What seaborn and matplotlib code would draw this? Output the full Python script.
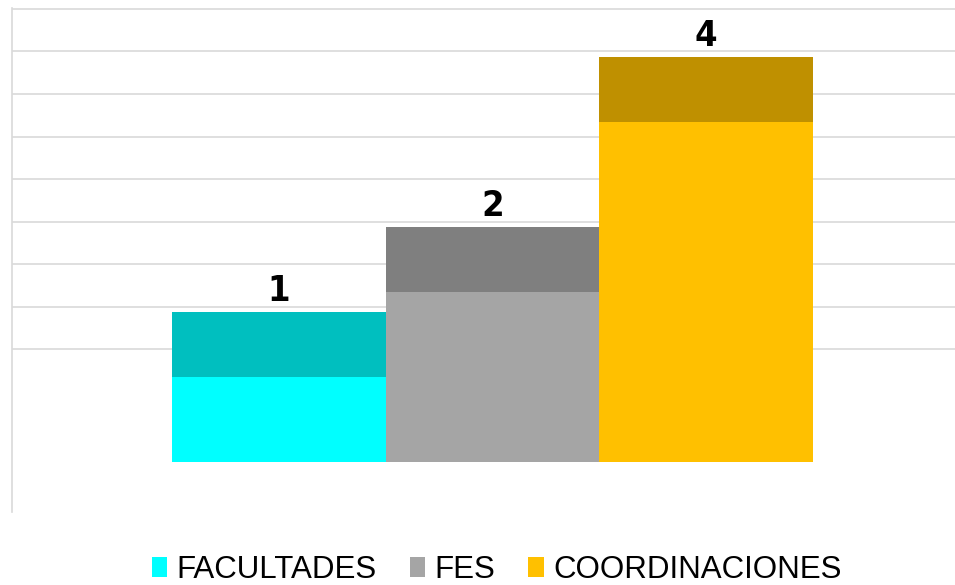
import seaborn as sns
import pandas as pd
import matplotlib.pyplot as plt
from matplotlib.patches import Patch

categories = ['FACULTADES', 'FES', 'COORDINACIONES']
values = [1, 2, 4]
front_colors = ['#00FFFF', '#A5A5A5', '#FFC000']
top_colors = ['#00BFBF', '#7F7F7F', '#BF9000']

# depth of the fake 3d top face, in value units
depth = 0.765

df = pd.DataFrame({'categoria': categories, 'valor': values})
df['tope'] = df['valor'] + depth

sns.set_theme(style='white')
plt.rcParams['font.family'] = ['Liberation Sans', 'DejaVu Sans']
plt.rcParams['text.color'] = 'black'

fig = plt.figure(figsize=(9.55, 5.85), dpi=100)
pos = [12 / 955, 73 / 585, 943 / 955, 504 / 585]

# back wall with gridlines
ax_bg = fig.add_axes(pos)
ax_bg.set_ylim(-3.824, 8.02)
ax_bg.set_xlim(0, 1)
ax_bg.set_yticks(range(0, 9))
ax_bg.set_xticks([])
ax_bg.grid(axis='y', color='#d9d9d9', linewidth=1.2)
ax_bg.tick_params(left=False, labelleft=False)
for s in ['top', 'right', 'bottom']:
    ax_bg.spines[s].set_visible(False)
ax_bg.spines['left'].set_color('#d9d9d9')
ax_bg.spines['left'].set_linewidth(1.2)

# bars
ax = fig.add_axes(pos)
ax.patch.set_alpha(0)
sns.barplot(data=df, x='categoria', y='tope', hue='categoria', palette=top_colors,
            width=1, legend=False, ax=ax, saturation=1, linewidth=0)
sns.barplot(data=df, x='categoria', y='valor', hue='categoria', palette=front_colors,
            width=1, legend=False, ax=ax, saturation=1, linewidth=0)
for i, cont in enumerate(ax.containers[:3]):
    ax.bar_label(cont, labels=[str(values[i])], padding=3, fontsize=26,
                 fontweight='bold', color='black', fontstretch='condensed',
                 family=['Liberation Sans Narrow', 'DejaVu Sans'])

ax.set_xlim(-1.249, 3.165)
ax.set_ylim(-0.588, 5.341)
ax.set_axis_off()

handles = [Patch(facecolor=c, edgecolor='none') for c in front_colors]
leg = fig.legend(handles, categories, loc='lower center', bbox_to_anchor=(0.52, -0.048),
                 ncol=3, frameon=False, fontsize=22.5, handlelength=0.5, handleheight=0.6,
                 handletextpad=0.3, columnspacing=1.05)
for t in leg.get_texts():
    t.set_color('black')

fig.savefig('out.png', dpi=100)
